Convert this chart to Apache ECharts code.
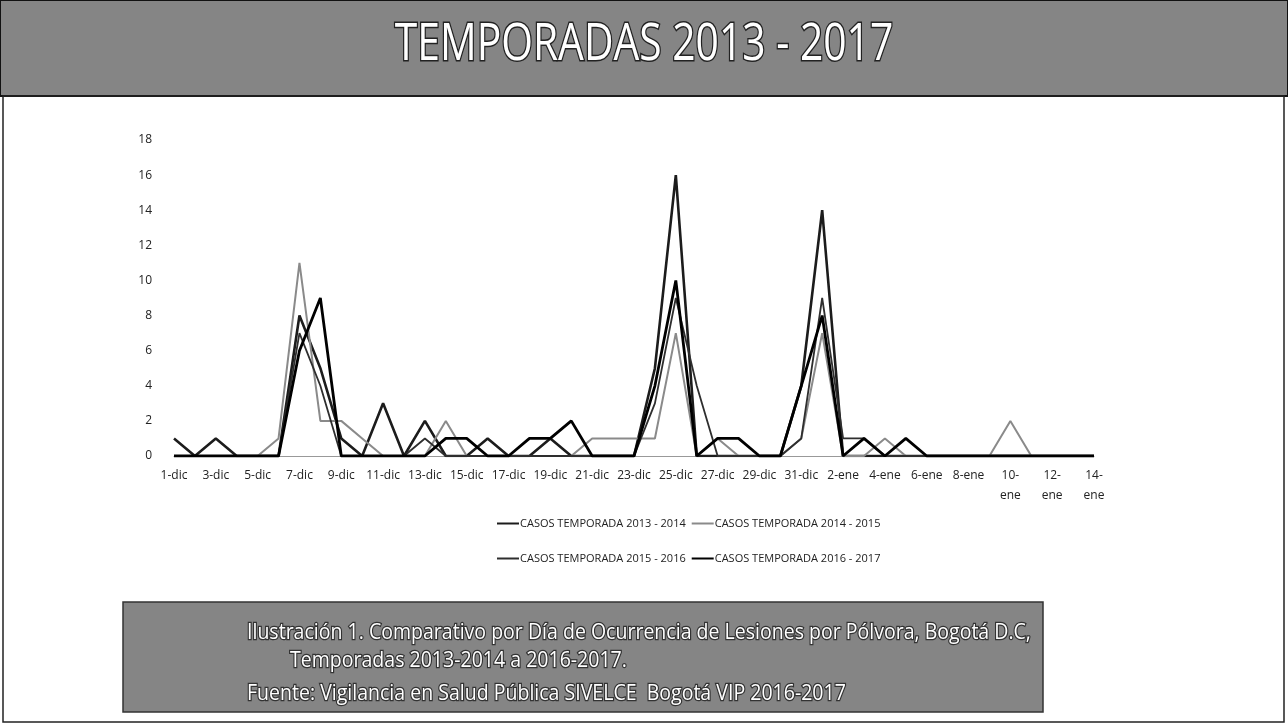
<!DOCTYPE html>
<html>
<head>
<meta charset="utf-8">
<script src="https://cdn.jsdelivr.net/npm/echarts@6/dist/echarts.min.js"></script>
<style>html,body{margin:0;padding:0;background:#fff}#c{width:1288px;height:726px}</style>
</head>
<body>
<div id="c"></div>
<script>
const categories = ['1-dic','2-dic','3-dic','4-dic','5-dic','6-dic','7-dic','8-dic','9-dic','10-dic','11-dic','12-dic','13-dic','14-dic','15-dic','16-dic','17-dic','18-dic','19-dic','20-dic','21-dic','22-dic','23-dic','24-dic','25-dic','26-dic','27-dic','28-dic','29-dic','30-dic','31-dic','1-ene','2-ene','3-ene','4-ene','5-ene','6-ene','7-ene','8-ene','9-ene','10-ene','11-ene','12-ene','13-ene','14-ene'];
const seriesNames = ['CASOS TEMPORADA 2013 - 2014','CASOS TEMPORADA 2014 - 2015','CASOS TEMPORADA 2015 - 2016','CASOS TEMPORADA 2016 - 2017'];
const s2013 = [1,0,1,0,0,0,8,5,1,0,3,0,2,0,0,1,0,0,1,0,0,0,0,5,16,0,0,0,0,0,4,14,0,0,0,0,0,0,0,0,0,0,0,0,0];
const s2014 = [0,0,0,0,0,1,11,2,2,1,0,0,0,2,0,0,0,0,0,0,1,1,1,1,7,0,1,0,0,0,1,7,0,0,1,0,0,0,0,0,2,0,0,0,0];
const s2015 = [0,0,0,0,0,0,7,4,0,0,0,0,1,0,0,0,0,0,0,0,0,0,0,3,9,4,0,0,0,0,1,9,1,1,0,0,0,0,0,0,0,0,0,0,0];
const s2016 = [0,0,0,0,0,0,6,9,0,0,0,0,0,1,1,0,0,1,1,2,0,0,0,4,10,0,1,1,0,0,4,8,0,1,0,1,0,0,0,0,0,0,0,0,0];
const yTicks = {min:0, max:18, interval:2};
const titleText = 'TEMPORADAS 2013 - 2017';
const captionLines = ['Ilustración 1. Comparativo por Día de Ocurrencia de Lesiones por Pólvora, Bogotá D.C,','Temporadas 2013-2014 a 2016-2017.','Fuente: Vigilancia en Salud Pública SIVELCE  Bogotá VIP 2016-2017'];

const chart = echarts.init(document.getElementById('c'));
const font = "'Open Sans',sans-serif";
const lineStyles = [
  {color:'#1c1c1c', width:2.6},
  {color:'#8a8a8a', width:2},
  {color:'#2e2e2e', width:1.8},
  {color:'#000000', width:2.8}
];
const data = [s2013, s2014, s2015, s2016];
const order = [1,2,0,3];
chart.setOption({
  backgroundColor:'#fff',
  animation:false,
  grid:{left:174,right:194,top:140,bottom:270,containLabel:false},
  xAxis:{
    type:'category', data:categories, boundaryGap:false,
    axisLine:{show:true,lineStyle:{color:'#999',width:1}},
    axisTick:{show:false},
    axisLabel:{interval:1, fontSize:12, color:'#222', fontFamily:'Open Sans', margin:10, lineHeight:20,
      formatter:function(v){ return /^\d\d-ene$/.test(v) ? v.replace('-','-\n') : v; }}
  },
  yAxis:{
    type:'value', min:yTicks.min, max:yTicks.max, interval:yTicks.interval,
    axisLine:{show:false}, axisTick:{show:false},
    splitLine:{show:false},
    axisLabel:{fontSize:12, color:'#222', fontFamily:'Open Sans', margin:22}
  },
  legend:[
    {data:[seriesNames[0],seriesNames[1]], left:492, top:513, itemWidth:22, itemHeight:2, itemGap:6, icon:'rect',
     textStyle:{fontSize:11, color:'#222', fontFamily:'Open Sans', padding:[0,0,0,-4]}},
    {data:[seriesNames[2],seriesNames[3]], left:492, top:548, itemWidth:22, itemHeight:2, itemGap:6, icon:'rect',
     textStyle:{fontSize:11, color:'#222', fontFamily:'Open Sans', padding:[0,0,0,-4]}}
  ],
  series: order.map(function(k){ return {
    name:seriesNames[k], type:'line', data:data[k], symbol:'none', smooth:false,
    lineStyle:{color:lineStyles[k].color, width:lineStyles[k].width},
    itemStyle:{color:lineStyles[k].color},
    z: 2+k
  };}),
  graphic:[
    {type:'rect', z:0, shape:{x:0,y:0,width:1288,height:96}, style:{fill:'#858585', stroke:'#111', lineWidth:2}},
    {type:'rect', z:0, shape:{x:3,y:96,width:1281,height:626}, style:{fill:'none', stroke:'#222', lineWidth:1.5}},
    {type:'text', z:100, x:644, y:45, scaleX:0.8, style:{text:titleText, fill:'#fff', stroke:'#222', lineWidth:3,
      font:"51px " + font, align:'center', verticalAlign:'middle'}},
    {type:'rect', z:0, shape:{x:123,y:602,width:920,height:110}, style:{fill:'#858585', stroke:'#333', lineWidth:1.5}},
    {type:'text', z:100, x:247, y:633, scaleX:0.93, style:{text:captionLines[0], fill:'#fff', stroke:'#333', lineWidth:2.5,
      font:"21px " + font, align:'left', verticalAlign:'middle'}},
    {type:'text', z:100, x:290, y:661, scaleX:0.93, style:{text:captionLines[1], fill:'#fff', stroke:'#333', lineWidth:2.5,
      font:"21px " + font, align:'left', verticalAlign:'middle'}},
    {type:'text', z:100, x:247, y:694, scaleX:0.93, style:{text:captionLines[2], fill:'#fff', stroke:'#333', lineWidth:2.5,
      font:"21px " + font, align:'left', verticalAlign:'middle'}}
  ]
});
</script>
</body>
</html>
